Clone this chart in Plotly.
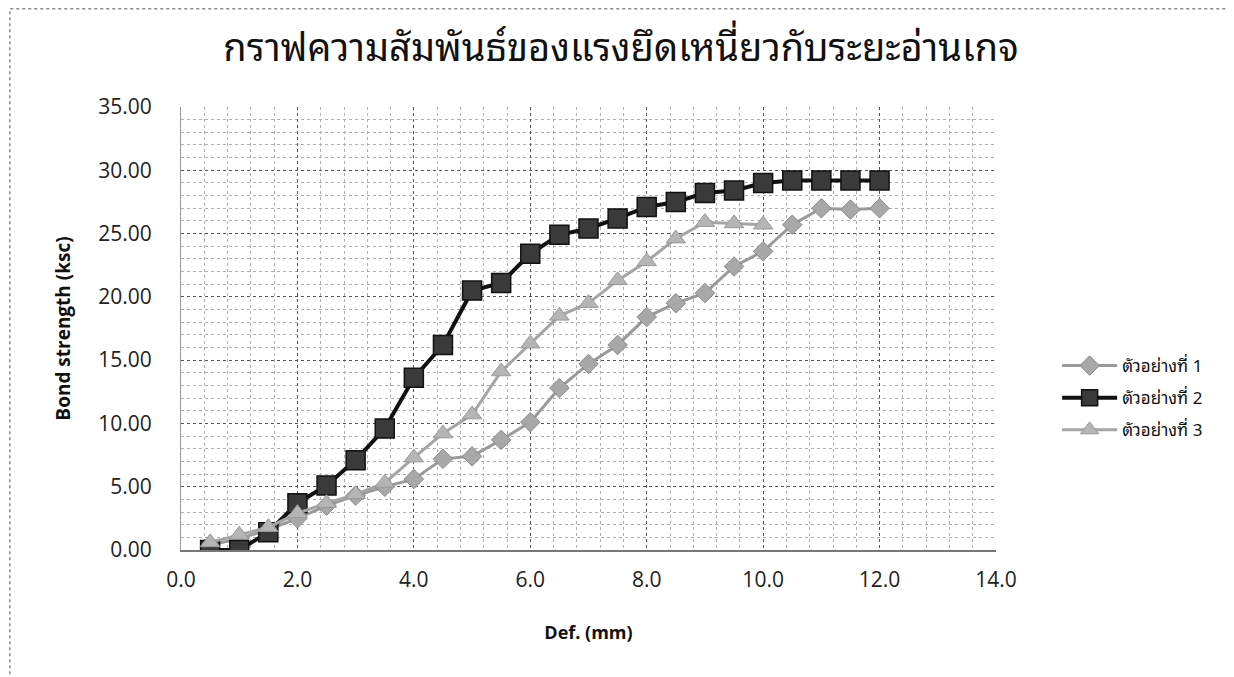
import plotly.graph_objects as go

x12 = [0.5, 1.0, 1.5, 2.0, 2.5, 3.0, 3.5, 4.0, 4.5, 5.0, 5.5, 6.0, 6.5, 7.0, 7.5, 8.0,
       8.5, 9.0, 9.5, 10.0, 10.5, 11.0, 11.5, 12.0]
x3 = [0.5, 1.0, 1.5, 2.0, 2.5, 3.0, 3.5, 4.0, 4.5, 5.0, 5.5, 6.0, 6.5, 7.0, 7.5, 8.0,
      8.5, 9.0, 9.5, 10.0]

s1 = [0.4, 0.9, 1.6, 2.5, 3.5, 4.3, 5.0, 5.6, 7.2, 7.4, 8.7, 10.1, 12.8, 14.7, 16.2, 18.4,
      19.5, 20.3, 22.4, 23.6, 25.7, 27.0, 26.9, 27.0]
s2 = [0.0, 0.0, 1.4, 3.7, 5.1, 7.1, 9.6, 13.6, 16.2, 20.5, 21.1, 23.4, 24.9, 25.4, 26.2, 27.1,
      27.5, 28.2, 28.4, 29.0, 29.2, 29.2, 29.2, 29.2]
s3 = [0.6, 1.2, 1.8, 2.9, 3.7, 4.4, 5.3, 7.3, 9.2, 10.7, 14.1, 16.3, 18.5, 19.5, 21.3, 22.8,
      24.6, 25.9, 25.8, 25.7]

names = ["ตัวอย่างที่ 1", "ตัวอย่างที่ 2", "ตัวอย่างที่ 3"]
x_ticks = [0, 2, 4, 6, 8, 10, 12, 14]
y_ticks = [0, 5, 10, 15, 20, 25, 30, 35]

fig = go.Figure()
fig.add_trace(go.Scatter(
    x=x12, y=s1, name=names[0], mode="lines+markers", legendgroup="g1",
    line=dict(color="#9a9a9a", width=3),
    marker=dict(symbol="diamond", size=15, color="#a8a8a8", line=dict(color="#8a8a8a", width=1))))
fig.add_trace(go.Scatter(
    x=x12, y=s2, name=names[1], mode="lines+markers", legendgroup="g2",
    line=dict(color="#111111", width=4),
    marker=dict(symbol="square", size=19, color="#3a3a3a", line=dict(color="#111111", width=1.5))))
fig.add_trace(go.Scatter(
    x=x3, y=s3, name=names[2], mode="lines+markers", legendgroup="g3",
    line=dict(color="#a5a5a5", width=3),
    marker=dict(symbol="triangle-up", size=17, color="#b5b5b5", line=dict(color="#999999", width=1))))

num_font = dict(family="Open Sans, Lato, sans-serif", size=21, color="#222222")
thai = "Noto Sans Thai Looped, Noto Sans Thai, Noto Sans, sans-serif"

fig.update_layout(
    width=1226, height=669,
    paper_bgcolor="white", plot_bgcolor="white",
    margin=dict(l=173, r=238, t=99, b=127),
    title=dict(text="กราฟความสัมพันธ์ของแรงยึดเหนี่ยวกับระยะอ่านเกจ",
               x=0.5, xref="container", xanchor="center", y=0.94, yanchor="middle",
               font=dict(family=thai, size=38, color="#111111")),
    showlegend=True,
    legend=dict(x=1.075, y=0.343, xanchor="left", yanchor="middle",
                font=dict(family=thai, size=17, color="#111111"),
                tracegroupgap=7, itemwidth=55, bgcolor="rgba(0,0,0,0)"),
    xaxis=dict(range=[0, 14], tickvals=x_ticks, ticktext=[f"{v:.1f}" for v in x_ticks],
               tickfont=num_font, ticks="", ticklabelstandoff=10,
               showgrid=True, gridcolor="#555555", griddash="dot", gridwidth=1,
               minor=dict(dtick=0.4, showgrid=True, gridcolor="#b0b0b0", griddash="dot", gridwidth=1),
               showline=True, linecolor="#777777", linewidth=1.5, zeroline=False,
               title=dict(text="<b>Def. (mm)</b>", standoff=34,
                          font=dict(family="Open Sans, sans-serif", size=18, color="#111111"))),
    yaxis=dict(range=[0, 35], tickvals=y_ticks, ticktext=[f"{v:.2f}" for v in y_ticks],
               tickfont=num_font, ticks="", ticklabelstandoff=24,
               showgrid=True, gridcolor="#555555", griddash="dot", gridwidth=1,
               minor=dict(dtick=1, showgrid=True, gridcolor="#b0b0b0", griddash="dot", gridwidth=1),
               showline=True, linecolor="#999999", linewidth=1, zeroline=False,
               title=dict(text="<b>Bond strength (ksc)</b>", standoff=22,
                          font=dict(family="Open Sans, sans-serif", size=19, color="#111111"))),
    shapes=[dict(type="rect", xref="paper", yref="paper", x0=-0.21, x1=1.29, y0=-0.35, y1=1.222,
                 line=dict(color="#888888", width=1.5, dash="dot"), layer="below")],
)

fig.write_html("out.html")
